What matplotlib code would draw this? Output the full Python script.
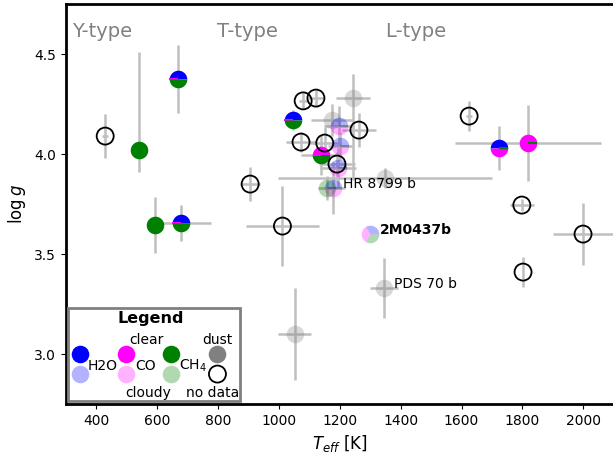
import matplotlib
matplotlib.use("Agg")
import matplotlib.pyplot as plt
from matplotlib.patches import Rectangle
import numpy as np

# clear atmospheres (pie of H2O / CO / CH4 detections)
clear_teff = [541, 594, 669, 679, 1047, 1139, 1724, 1819]
clear_logg = [4.02, 3.645, 4.375, 3.655, 4.17, 3.995, 4.03, 4.055]
clear_h2o = [0, 0, 1, 1, 1, 0, 1, 0]
clear_co = [0, 0, 0, 0, 0, 1, 1, 1]
clear_ch4 = [1, 1, 1, 1, 1, 1, 0, 0]
clear_xerr = [0, 0, 0, 100, 0, 65, 0, 240]
clear_yerr_lo = [0.11, 0.14, 0.17, 0.09, 0.05, 0.10, 0.11, 0.19]
clear_yerr_hi = [0.49, 0.14, 0.17, 0.09, 0.05, 0.10, 0.11, 0.19]

# cloudy atmospheres
cloudy_teff = [1198, 1201, 1195, 1178, 1158, 1300]
cloudy_logg = [4.14, 4.04, 3.93, 3.83, 3.83, 3.60]
cloudy_h2o = [1, 1, 1, 1, 0, 1]
cloudy_co = [1, 1, 1, 1, 0, 1]
cloudy_ch4 = [0, 0, 0, 0, 1, 1]
cloudy_xerr = [50, 40, 60, 40, 30, 0]
cloudy_yerr = [0.10, 0.07, 0.10, 0.13, 0.06, 0.0]

# dusty objects
dust_teff = [1053, 1175, 1244, 1349, 1346]
dust_logg = [3.10, 4.17, 4.28, 3.88, 3.33]
dust_xerr = [54, 70, 55, 350, 46]
dust_yerr_lo = [0.23, 0.08, 0.41, 0.05, 0.15]
dust_yerr_hi = [0.23, 0.08, 0.12, 0.05, 0.15]

# no molecular data
nodata_teff = [430, 906, 1012, 1080, 1122, 1073, 1151, 1191, 1263, 1625, 1798, 1802, 1999]
nodata_logg = [4.09, 3.85, 3.64, 4.266, 4.28, 4.06, 4.055, 3.95, 4.12, 4.19, 3.745, 3.41, 3.60]
nodata_xerr = [10, 33, 120, 15, 25, 50, 50, 60, 55, 10, 40, 0, 100]
nodata_yerr = [0.11, 0.085, 0.2, 0.04, 0.04, 0.05, 0.08, 0.06, 0.085, 0.075, 0.03, 0.075, 0.155]

# labelled objects
label_names = ["HR 8799 b", "2M0437b", "PDS 70 b"]
label_teff = [1178, 1300, 1346]
label_logg = [3.83, 3.60, 3.33]
label_bold = [False, True, False]

type_names = ["Y-type", "T-type", "L-type"]
type_teff = [320, 797, 1349]

mol_colors = ["blue", "magenta", "green"]
S = 160
ERRC = "0.75"


def pie_marker(ax, x, y, fracs, colors, alpha=1.0, s=S, zorder=3):
    total = float(sum(fracs))
    start = 0.0
    for f, c in zip(fracs, colors):
        ang = 2 * np.pi * f / total
        if f == 0:
            verts = [[0, 0], [np.cos(start), np.sin(start)]]
            ax.scatter([x], [y], marker=verts, s=s, facecolor=c, edgecolor=c,
                       linewidths=1.5, alpha=alpha, zorder=zorder)
        else:
            t = np.linspace(start, start + ang, 60)
            verts = np.vstack([[0, 0], np.column_stack([np.cos(t), np.sin(t)]), [0, 0]])
            ax.scatter([x], [y], marker=verts, s=s, color=c, linewidths=0,
                       alpha=alpha, zorder=zorder)
        start += ang


fig = plt.figure(figsize=(6.13, 4.54), dpi=100)
ax = fig.add_axes([0.107, 0.110, 0.8943, 0.881])

# error bars
ax.errorbar(clear_teff, clear_logg, xerr=clear_xerr, yerr=[clear_yerr_lo, clear_yerr_hi],
            fmt="none", ecolor=ERRC, elinewidth=1.8, zorder=1)
ax.errorbar(cloudy_teff, cloudy_logg, xerr=cloudy_xerr, yerr=cloudy_yerr,
            fmt="none", ecolor=ERRC, elinewidth=1.8, zorder=1)
ax.errorbar(dust_teff, dust_logg, xerr=dust_xerr, yerr=[dust_yerr_lo, dust_yerr_hi],
            fmt="none", ecolor=ERRC, elinewidth=1.8, zorder=1)
ax.errorbar(nodata_teff, nodata_logg, xerr=nodata_xerr, yerr=nodata_yerr,
            fmt="none", ecolor=ERRC, elinewidth=1.8, zorder=1)

# markers
ax.scatter(dust_teff, dust_logg, s=S, color="gray", alpha=0.3, linewidths=0, zorder=2)
for i in range(len(cloudy_teff)):
    pie_marker(ax, cloudy_teff[i], cloudy_logg[i],
               [cloudy_h2o[i], cloudy_co[i], cloudy_ch4[i]], mol_colors, alpha=0.3)
for i in range(len(clear_teff)):
    pie_marker(ax, clear_teff[i], clear_logg[i],
               [clear_h2o[i], clear_co[i], clear_ch4[i]], mol_colors, zorder=4)
ax.scatter(nodata_teff, nodata_logg, s=150, facecolor="none", edgecolor="black",
           linewidths=1.3, zorder=5)

for name, t, g, b in zip(label_names, label_teff, label_logg, label_bold):
    ax.annotate(name, (t, g), xytext=(7, 3), textcoords="offset points",
                ha="left", va="center", fontsize=10,
                fontweight="bold" if b else "normal", zorder=6)

for name, t in zip(type_names, type_teff):
    ax.text(t, 4.585, name, fontsize=14, color="gray", ha="left", va="baseline")

ax.set_xlim(300, 2100)
ax.set_ylim(2.75, 4.75)
ax.set_yticks([3.0, 3.5, 4.0, 4.5])
ax.set_xlabel(r"$T_{eff}$ [K]", fontsize=12)
ax.set_ylabel(r"$\log g$", fontsize=12)
for sp in ax.spines.values():
    sp.set_linewidth(2)
ax.tick_params(labelsize=10)

# hand made legend box
ta = ax.transAxes
ax.add_patch(Rectangle((0.0044, 0.0075), 0.3136, 0.2325, transform=ta,
                       facecolor="white", edgecolor="gray", linewidth=2, zorder=7))
ax.text(0.156, 0.215, "Legend", transform=ta, ha="center", va="center",
        fontsize=11.5, fontweight="bold", zorder=8)
leg_x = [0.026, 0.110, 0.193]
for c, lx in zip(mol_colors, leg_x):
    ax.scatter([lx], [0.125], transform=ta, s=S, color=c, linewidths=0, zorder=8)
    ax.scatter([lx], [0.075], transform=ta, s=S, color=c, alpha=0.3, linewidths=0, zorder=8)
ax.scatter([0.277], [0.125], transform=ta, s=S, color="gray", linewidths=0, zorder=8)
ax.scatter([0.277], [0.075], transform=ta, s=150, facecolor="none", edgecolor="black",
           linewidths=1.3, zorder=8)
leg_texts = [("clear", 0.147, 0.160), ("dust", 0.277, 0.160),
             ("H2O", 0.068, 0.095), ("CO", 0.145, 0.095), ("CH$_4$", 0.233, 0.095),
             ("cloudy", 0.150, 0.028), ("no data", 0.269, 0.028)]
for s_, lx, ly in leg_texts:
    ax.text(lx, ly, s_, transform=ta, ha="center", va="center", fontsize=10, zorder=9)

fig.savefig("out.png", dpi=100)
